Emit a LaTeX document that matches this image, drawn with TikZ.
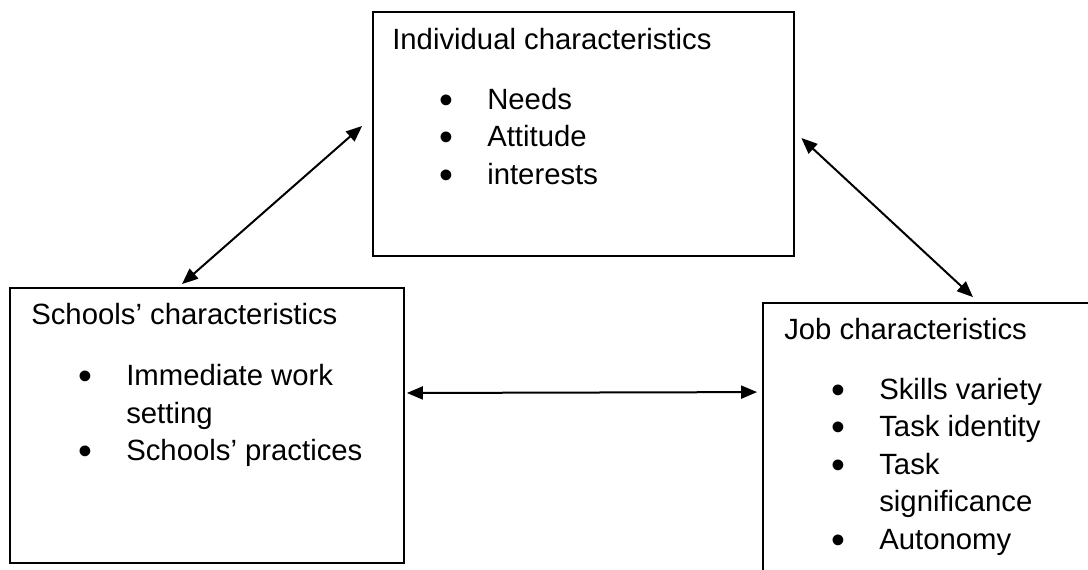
\documentclass[tikz,border=0pt]{standalone}
\usepackage{fontspec}
\setmainfont{Liberation Sans}
\usetikzlibrary{positioning,arrows.meta}

\newcommand{\bulletline}[1]{\makebox[95pt][l]{\hspace*{47pt}\raisebox{-3.8pt}{\scalebox{1.35}{\textbullet}}}#1}
\newcommand{\hangline}[1]{\hspace*{95pt}#1}
% first line gets a fixed height so that north west sits 25pt above its baseline
\newcommand{\topline}[1]{\rule{0pt}{25pt}#1}

\begin{document}
\begin{tikzpicture}[x=1pt,y=1pt,>={Triangle[length=16pt,width=13pt]},on grid,
		box/.style={draw,line width=1.8pt,minimum width=421pt,minimum height=244pt,inner sep=0pt},
		info/.style={align=left,anchor=north west,inner sep=0pt,font=\fontsize{29.3}{37.5}\selectfont},
		link/.style={<->,line width=2pt}]
		\useasboundingbox (0,0) rectangle (1088,570);
		\clip (0,0) rectangle (1088,570);

		\node[box]  (ind) at (583.5,436) {};
		\node[box, minimum width=394pt, minimum height=275pt] (sch) [below left=291.5pt and 376.5pt of ind] {};
		\node[box, minimum width=337pt, minimum height=282pt] (job) [below right=310pt and 348pt of ind] {};

		\node[info] (ind-txt) at ([shift={(20,-13)}]ind.north west) {\topline{Individual characteristics}\\[22.5pt]
			\bulletline{Needs}\\ \bulletline{Attitude}\\ \bulletline{interests}};
		\node[info] (sch-txt) at ([shift={(22,-12)}]sch.north west) {\topline{Schools’ characteristics}\\[24pt]
			\bulletline{Immediate work}\\ \hangline{setting}\\ \bulletline{Schools’ practices}};
		\node[info] (job-txt) at ([shift={(22,-12)}]job.north west) {\topline{Job characteristics}\\[22.5pt]
			\bulletline{Skills variety}\\ \bulletline{Task identity}\\ \bulletline{Task}\\
			\hangline{significance}\\ \bulletline{Autonomy}};

		\path ([shift={(-25,3)}]sch.north) edge[link] ([shift={(-10,8)}]ind.west)
		([shift={(6.5,-4)}]ind.east) edge[link] ([shift={(41.5,5)}]job.north)
		([shift={(2,32.5)}]sch.east) edge[link] ([shift={(-5,-90)}]job.north west);
	\end{tikzpicture}
\end{document}
